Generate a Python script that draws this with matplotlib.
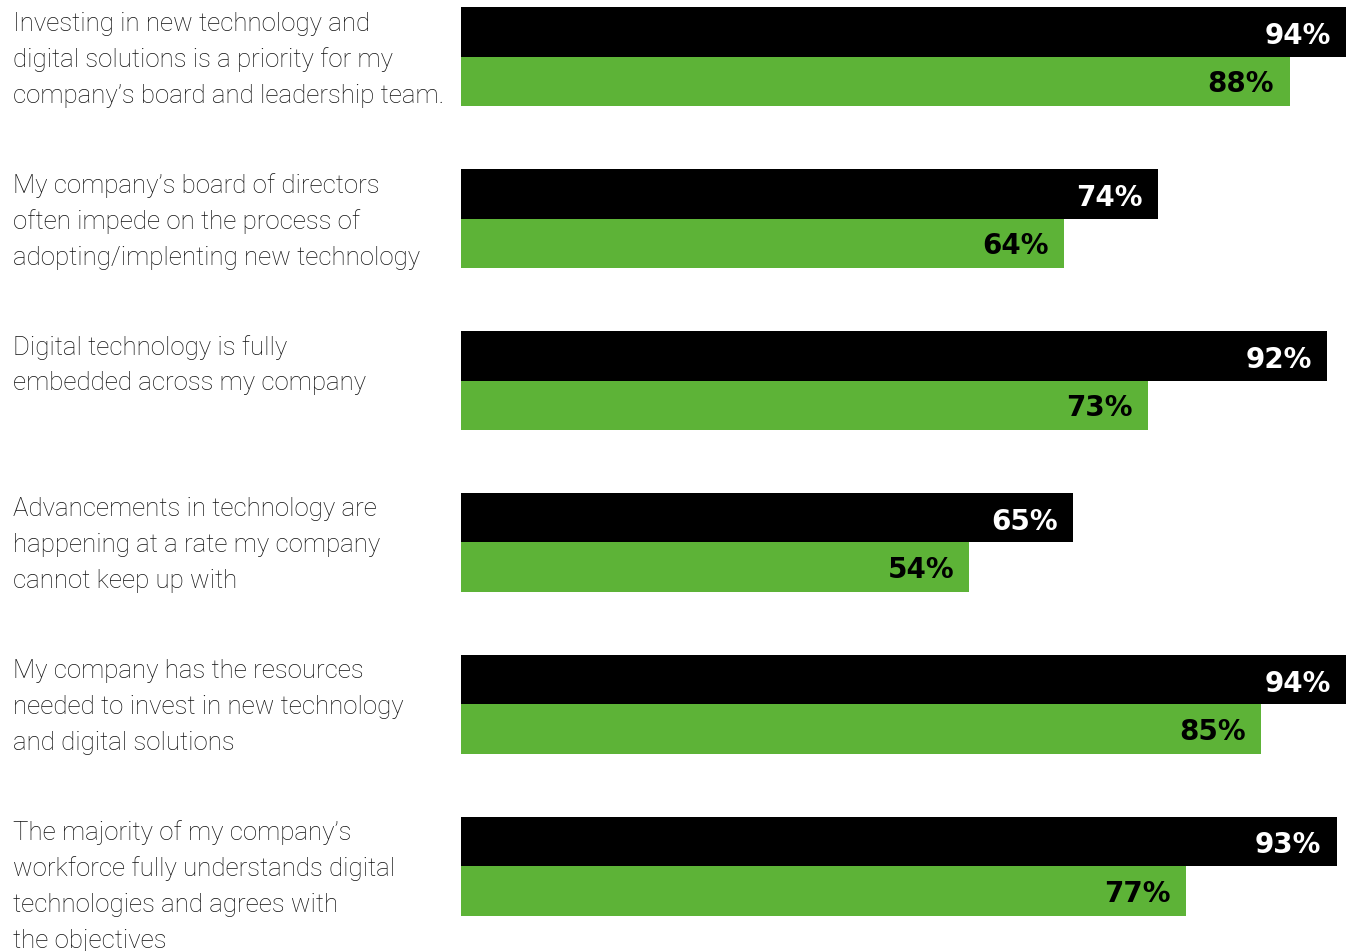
import matplotlib
matplotlib.use('Agg')
import matplotlib.pyplot as plt

# survey statements, one entry per line of the wrapped label
statements = [
    ['Investing in new technology and',
     'digital solutions is a priority for my',
     'company\u2019s board and leadership team.'],
    ['My company\u2019s board of directors',
     'often impede on the process of',
     'adopting/implenting new technology'],
    ['Digital technology is fully',
     'embedded across my company'],
    ['Advancements in technology are',
     'happening at a rate my company',
     'cannot keep up with'],
    ['My company has the resources',
     'needed to invest in new technology',
     'and digital solutions'],
    ['The majority of my company\u2019s',
     'workforce fully understands digital',
     'technologies and agrees with',
     'the objectives'],
]
black_vals = [94, 74, 92, 65, 94, 93]
green_vals = [88, 64, 73, 54, 85, 77]

BLACK = '#000000'
GREEN = '#5db337'

fig = plt.figure(figsize=(13.46, 9.51), dpi=100)
ax = fig.add_axes([461 / 1346, 0, 1 - 461 / 1346, 1])

h = 0.306
ypos = list(range(len(statements)))
for i, y in enumerate(ypos):
    ax.barh(y - h / 2, black_vals[i], height=h, color=BLACK, linewidth=0)
    ax.barh(y + h / 2, green_vals[i], height=h, color=GREEN, linewidth=0)
    ax.annotate(f'{black_vals[i]}%', xy=(black_vals[i], y - h / 2),
                xytext=(-11, -3), textcoords='offset points',
                ha='right', va='center', color='white',
                fontsize=20, fontweight='bold', family='DejaVu Sans')
    ax.annotate(f'{green_vals[i]}%', xy=(green_vals[i], y + h / 2),
                xytext=(-11, -2), textcoords='offset points',
                ha='right', va='center', color='black',
                fontsize=20, fontweight='bold', family='DejaVu Sans')
    # statement text, second line sits on the black/green boundary
    for k, line in enumerate(statements[i]):
        ax.annotate(line, xy=(13 / 1346, y), xycoords=('figure fraction', 'data'),
                    xytext=(0, -(k - 1) * 25.9 - 2), textcoords='offset points',
                    ha='left', va='center', fontsize=18.6, color='#111111',
                    family='Roboto', fontweight='light')

ax.set_xlim(0, 94)
ax.set_ylim(5.525, -0.352)
ax.axis('off')

fig.savefig('out.png', dpi=100)
